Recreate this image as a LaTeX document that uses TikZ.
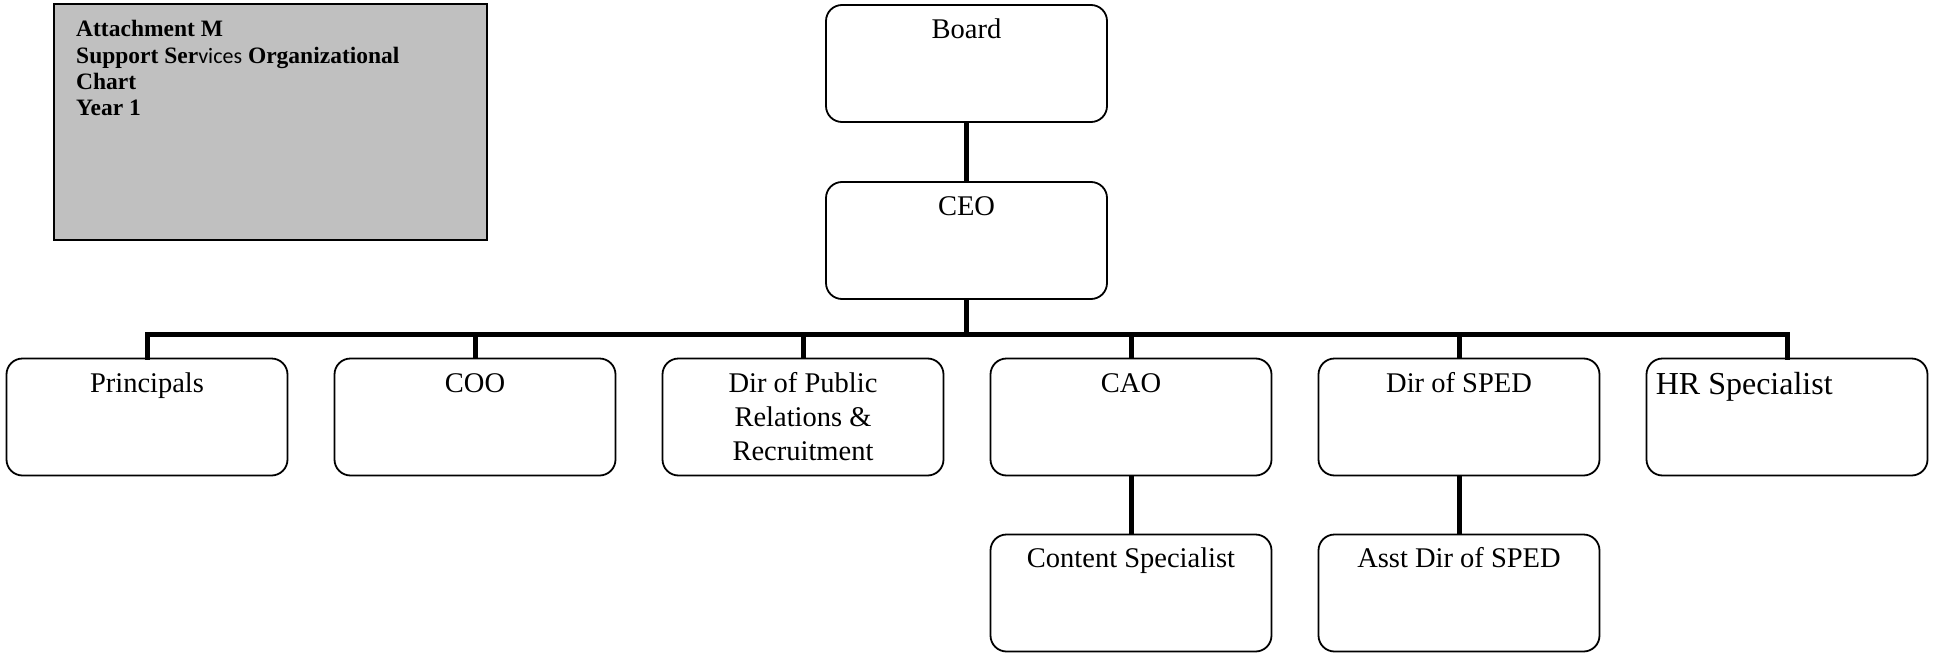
\documentclass[tikz,border=0pt]{standalone}
\usepackage{fontspec}
\setmainfont{Liberation Serif}
\newfontfamily\calfont{Carlito}
\usetikzlibrary{calc}
\definecolor{attgray}{HTML}{C0C0C0}
\begin{document}
\begin{tikzpicture}[x=1pt,y=-1pt,
  box/.style={draw, line width=1.8pt, rounded corners=16pt, minimum width=281pt, minimum height=117pt, inner sep=0pt, fill=white},
  txt/.style={inner sep=0pt, anchor=base, align=center, font=\fontsize{28.5}{33.7}\selectfont},
  conn/.style={line width=5pt}]
\useasboundingbox (0,0) rectangle (1936,653);

% attachment box
\node[draw, line width=2.5pt, fill=attgray, minimum width=433pt, minimum height=236pt, inner sep=0pt] (att) at (270.5,122) {};
% base anchor of a multi-line node is the baseline of its last line
\node[anchor=base west, inner sep=0pt, align=left, font=\bfseries\fontsize{23.5}{26.3}\selectfont] (attT) at (76,115.6)
  {Attachment M\\Support Ser{\calfont\mdseries\fontsize{22}{26.3}\selectfont vices} Organizational\\Chart\\Year 1};

% boxes
\node[box] (board) at (966.5,63.5) {};
\node[box] (ceo) at (966.5,240.5) {};
\node[box] (prin) at (147,417) {};
\node[box] (coo) at (475,417) {};
\node[box] (dpr) at (803,417) {};
\node[box] (cao) at (1131,417) {};
\node[box] (sped) at (1459,417) {};
\node[box] (hr) at (1787,417) {};
\node[box] (cs) at (1131,593) {};
\node[box] (asped) at (1459,593) {};

% texts
\node[txt] (boardT) at ($(board.north)+(0,34)$) {Board};
\node[txt] (ceoT) at ($(ceo.north)+(0,34)$) {CEO};
\node[txt] (prinT) at ($(prin.north)+(0,35)$) {Principals};
\node[txt] (cooT) at ($(coo.north)+(0,35)$) {COO};
\node[txt] (dprT) at ($(dpr.north)+(0,102.4)$) {Dir of Public\\Relations \&\\Recruitment};
\node[txt] (caoT) at ($(cao.north)+(0,35)$) {CAO};
\node[txt] (spedT) at ($(sped.north)+(0,35)$) {Dir of SPED};
\node[txt, anchor=base west, font=\fontsize{32}{38}\selectfont] (hrT) at ($(hr.north west)+(10,37)$) {HR Specialist};
\node[txt] (csT) at ($(cs.north)+(0,34)$) {Content Specialist};
\node[txt] (aspedT) at ($(asped.north)+(0,34)$) {Asst Dir of SPED};

% connectors
\coordinate (bus) at ($(ceo.south)+(0,35)$);
\draw[conn] (board.south) -- (ceo.north);
\draw[conn] (ceo.south) -- (bus);
\draw[conn, line cap=rect] (prin.north) |- (bus) -| (hr.north);
\foreach \n in {coo,dpr,cao,sped}
  \draw[conn] (\n.north) -- (\n.north |- bus);
\draw[conn] (cao.south) -- (cs.north);
\draw[conn] (sped.south) -- (asped.north);
\end{tikzpicture}
\end{document}
